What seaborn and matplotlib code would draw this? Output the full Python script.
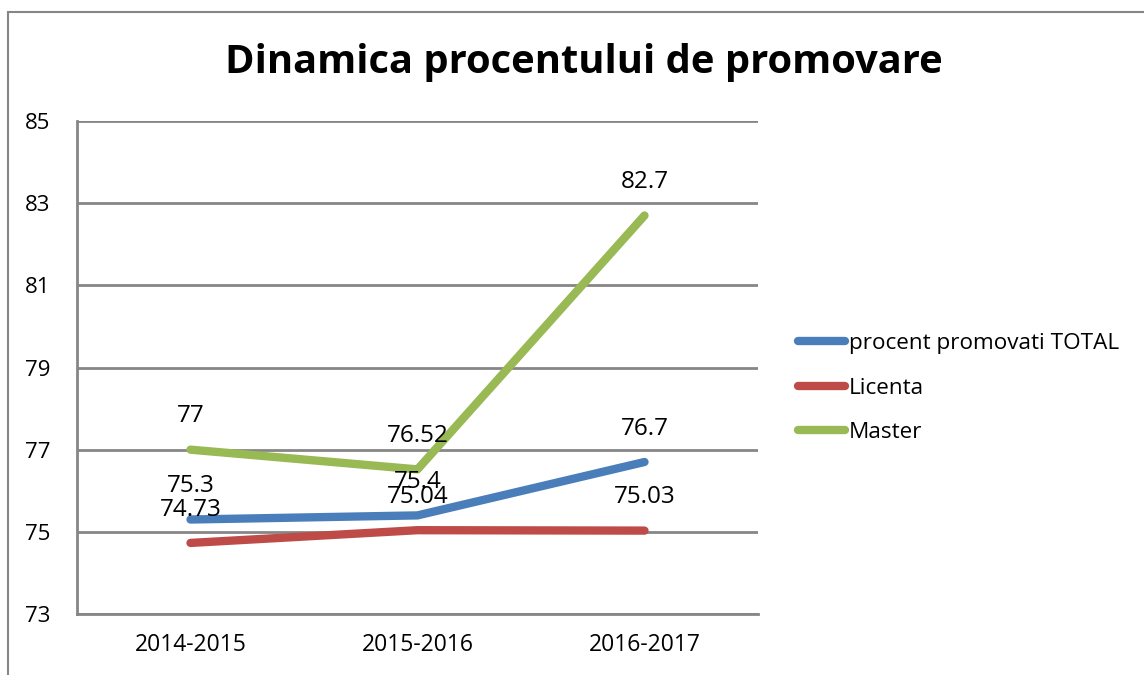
import pandas as pd
import matplotlib.pyplot as plt
import seaborn as sns
from matplotlib.patches import Rectangle

years = ["2014-2015", "2015-2016", "2016-2017"]
total = [75.3, 75.4, 76.7]
licenta = [74.73, 75.04, 75.03]
master = [77, 76.52, 82.7]
series = ["procent promovati TOTAL", "Licenta", "Master"]
colors = ["#4A7EBB", "#BE4B48", "#98B954"]

df = pd.DataFrame({
    "an": years * 3,
    "val": total + licenta + master,
    "serie": [s for s in series for _ in years],
})
df["x"] = [i for _ in series for i in range(len(years))]

sns.set_style("white")
plt.rcParams["font.family"] = ["Open Sans", "DejaVu Sans"]
plt.rcParams["text.color"] = "black"
plt.rcParams["xtick.color"] = "black"
plt.rcParams["ytick.color"] = "black"

fig = plt.figure(figsize=(11.44, 6.75), dpi=100)
ax = fig.add_axes([77 / 1144, 1 - 614 / 675, (758 - 77) / 1144, (614 - 121) / 675])

sns.lineplot(data=df, x="x", y="val", hue="serie", palette=colors, ax=ax,
             linewidth=6, solid_capstyle="round", legend=True)

for s, vals in zip(series, [total, licenta, master]):
    for i, v in enumerate(vals):
        ax.annotate(f"{v:g}", (i, v), xytext=(0, 24), textcoords="offset points",
                    ha="center", va="center", fontsize=17.5, color="black")

ax.set_xlim(-0.5, 2.5)
ax.set_ylim(73, 85)
ax.set_yticks(range(73, 86, 2))
ax.set_xticks(range(len(years)))
ax.set_xticklabels(years)
ax.set_xlabel("")
ax.set_ylabel("")
ax.tick_params(axis="x", labelsize=16.5, length=0, pad=14)
ax.tick_params(axis="y", labelsize=16, length=0, pad=19)
ax.grid(axis="y", color="#868686", linewidth=2)
ax.set_axisbelow(True)
for side in ["top", "right"]:
    ax.spines[side].set_visible(False)
for side in ["left", "bottom"]:
    ax.spines[side].set_color("#868686")
    ax.spines[side].set_linewidth(2)

leg = ax.legend(loc="center left", bbox_to_anchor=(1 + 40 / 681, 0.458), frameon=False,
                fontsize=16.2, handlelength=2.1, handletextpad=0.15, labelspacing=1.05,
                borderpad=0, borderaxespad=0)
for h in leg.get_lines():
    h.set_linewidth(6)
    h.set_solid_capstyle("round")

fig.text(584 / 1144, 1 - 62 / 675, "Dinamica procentului de promovare",
         ha="center", va="center", fontsize=28.7, fontweight="bold")

fig.patches.append(Rectangle((8 / 1144, -0.1), 1.2, 1 - 12 / 675 + 0.1,
                             transform=fig.transFigure, fill=False,
                             edgecolor="#868686", linewidth=1.5))

fig.savefig("out.png", dpi=100)
